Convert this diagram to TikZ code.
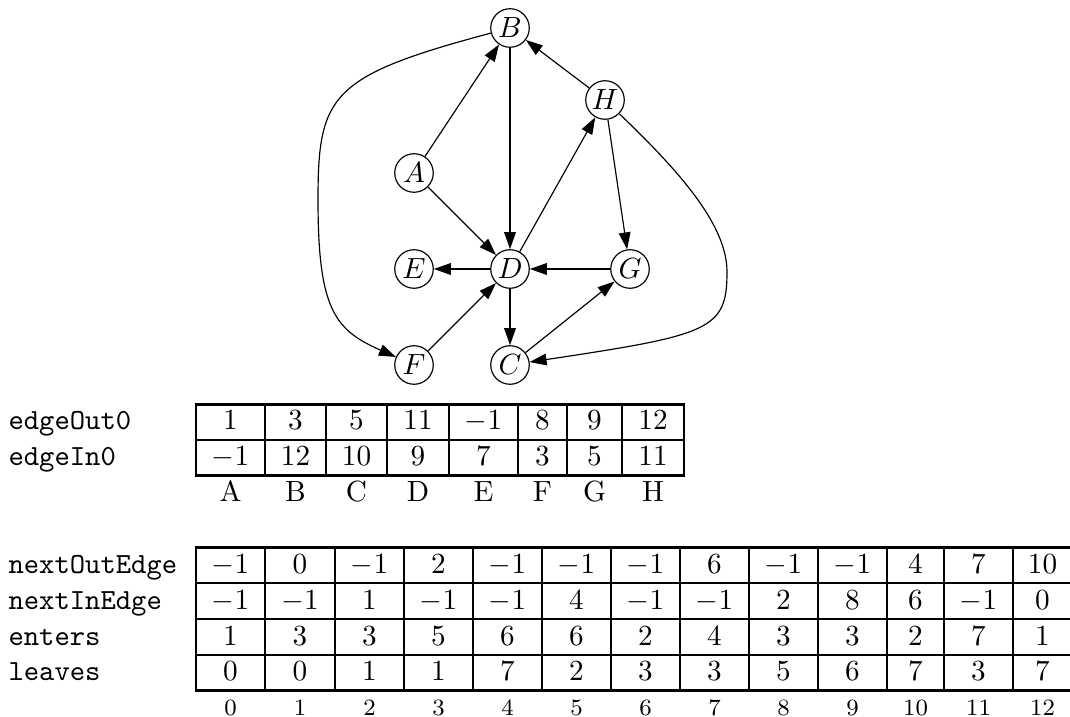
\documentclass[tikz,border=0pt]{standalone}
\usepackage{amsmath}
\usepackage{tikz}
\usetikzlibrary{arrows.meta,positioning,calc}
\tikzset{
  vertex/.style={circle, draw=black, line width=0.4pt, minimum size=13.2pt, inner sep=0pt},
  link/.style={-{Triangle[length=5.8pt,width=4pt]}, draw=black, line width=0.4pt},
  rowname/.style={anchor=base west, inner sep=0pt, font=\ttfamily},
  cellval/.style={anchor=base, inner sep=0pt},
  colname/.style={anchor=base, inner sep=0pt},
  idx/.style={anchor=base, inner sep=0pt, font=\footnotesize},
  gridline/.style={draw=black, line width=0.6pt},
  tblframe/.style={draw=black, line width=1pt}
}

\begin{document}
\begin{tikzpicture}[x=0.3425pt, y=-0.3425pt]
  \useasboundingbox (0,0) rectangle (1070,717);
  \node[vertex] (B) at (510,28) {$B$};
  \node[vertex] (H) at (605,100) {$H$};
  \node[vertex] (A) at (414,173) {$A$};
  \node[vertex] (D) at (510,269) {$D$};
  \node[vertex] (E) at (414,269) {$E$};
  \node[vertex] (G) at (630,269) {$G$};
  \node[vertex] (F) at (414,365) {$F$};
  \node[vertex] (C) at (510,365) {$C$};
  \coordinate (bf) at (318,200);
  \coordinate (hc) at (727,272);
  \draw[link] (A)--(B); \draw[link] (A)--(D); \draw[link] (B)--(D);
  \draw[link] (H)--(B); \draw[link] (D)--(H); \draw[link] (H)--(G);
  \draw[link] (G)--(D); \draw[link] (D)--(E); \draw[link] (F)--(D);
  \draw[link] (D)--(C); \draw[link] (C)--(G);
  \draw[link] (B) .. controls (330,76) and (318,95) .. (bf) .. controls (318,310) and (335,330) .. (F);
  \draw[link] (H) .. controls (680,172) and (727,225) .. (hc) .. controls (727,330) and (710,335) .. (C);

  \node[rowname] (eout) at (8,430) {edgeOut0};
  \node[rowname] (ein) at (8,465.5) {edgeIn0};
  \foreach \l/\r/\a/\b/\n [count=\i from 0] in {196/265/1/-1/A, 265/326/3/12/B, 326/387/5/10/C,
      387/449/11/9/D, 449/518/-1/7/E, 518/567/8/3/F, 567/622/9/5/G, 622/684/12/11/H}{
    \draw[gridline] (\l,404.3) -- (\l,475.5);
    \node[cellval] (out\i) at ({(\l+\r)/2},430) {$\a$};
    \node[cellval] (in\i) at ({(\l+\r)/2},465.5) {$\b$};
    \node[colname] (v\i) at ({(\l+\r)/2},501) {\n};
  }
  \draw[gridline] (196,440) -- (684,440);
  \draw[tblframe] (196,404.3) rectangle (684,475.5);

  \node[rowname] (nout) at (8,573) {nextOutEdge};
  \node[rowname] (nin) at (8,609) {nextInEdge};
  \node[rowname] (ent) at (8,645) {enters};
  \node[rowname] (lea) at (8,680.5) {leaves};
  \foreach \l/\r/\a/\b/\c/\d [count=\i from 0] in {196/265/-1/-1/1/0, 265/335/0/-1/3/0,
      335/404/-1/1/3/1, 404/473/2/-1/5/1, 473/542/-1/-1/6/7, 542/611/-1/4/6/2,
      611/680/-1/-1/2/3, 680/749/6/-1/4/3, 749/818/-1/2/3/5, 818/887/-1/8/3/6,
      887/944/4/6/2/7, 944/1013/7/-1/7/3, 1013/1072/10/0/1/7}{
    \draw[gridline] (\l,547.5) -- (\l,690.5);
    \node[cellval] (nxo\i) at ({(\l+\r)/2},573) {$\a$};
    \node[cellval] (nxi\i) at ({(\l+\r)/2},609) {$\b$};
    \node[cellval] (en\i) at ({(\l+\r)/2},645) {$\c$};
    \node[cellval] (lv\i) at ({(\l+\r)/2},680.5) {$\d$};
    \node[idx] (k\i) at ({(\l+\r)/2},715.5) {\i};
  }
  \draw[gridline] (196,583.3) -- (1072,583.3);
  \draw[gridline] (196,619.3) -- (1072,619.3);
  \draw[gridline] (196,655) -- (1072,655);
  \draw[tblframe] (196,547.5) rectangle (1072,690.5);
\end{tikzpicture}
\end{document}
